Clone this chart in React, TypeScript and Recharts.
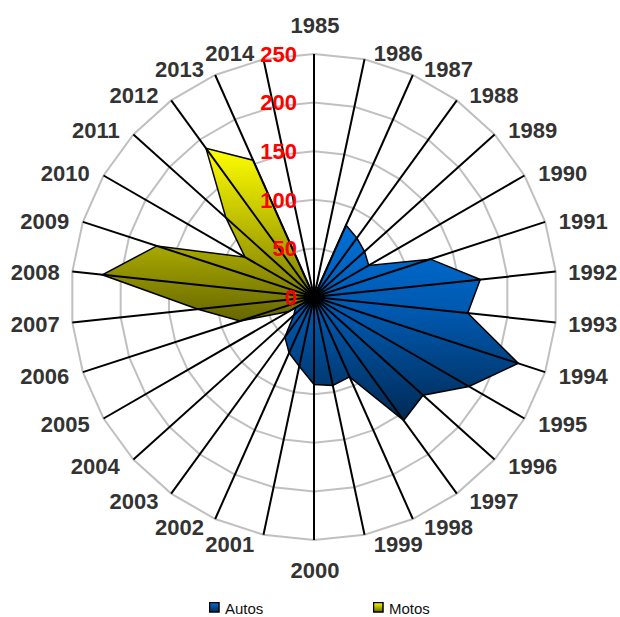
import React from 'react';
import { RadarChart, Radar, PolarGrid, PolarAngleAxis, PolarRadiusAxis, Legend } from 'recharts';

const years = [
  '1985', '1986', '1987', '1988', '1989', '1990', '1991', '1992', '1993', '1994',
  '1995', '1996', '1997', '1998', '1999', '2000', '2001', '2002', '2003', '2004',
  '2005', '2006', '2007', '2008', '2009', '2010', '2011', '2012', '2013', '2014',
];
const autos = [
  0, 0, 81, 75, 70, 65, 126, 172, 159, 221,
  184, 151, 157, 90, 93, 90, 73, 63, 51, 28,
  22, 0, 0, 0, 0, 0, 0, 0, 0, 0,
];
const motos = [
  0, 0, 0, 0, 0, 0, 0, 0, 0, 0,
  0, 0, 0, 0, 0, 0, 0, 0, 0, 0,
  30, 80, 120, 219, 170, 82, 122, 189, 154, 0,
];
const radiusTicks = [0, 50, 100, 150, 200, 250];
const seriesNames = ['Autos', 'Motos'];

const data = years.map((y, i) => ({ year: y, autos: autos[i], motos: motos[i] }));

const CX = 314;
const CY = 297;
const OUTER_R = 243;
const FONT = '"Liberation Sans", Arial, sans-serif';

const AngleTick = (props: any) => {
  const { payload } = props;
  const theta = ((90 - payload.coordinate) % 360 + 360) % 360;
  const rad = (theta * Math.PI) / 180;
  const s = Math.sin(rad);
  const c = Math.cos(rad);
  let x: number;
  let y: number;
  let anchor: 'start' | 'middle' | 'end';
  if (Math.abs(s) < 0.05) {
    x = CX + 1;
    y = c > 0 ? 25 : 570;
    anchor = 'middle';
  } else {
    const off = 255 * Math.abs(s) + 7 * Math.abs(c);
    x = s > 0 ? CX + off : CX - off;
    y = CY + 1.5 - 251 * c;
    anchor = s > 0 ? 'start' : 'end';
  }
  return (
    <text x={x} y={y} dy="0.35em" textAnchor={anchor} fill="#333333" fontFamily={FONT} fontWeight="bold" fontSize={22}>
      {payload.value}
    </text>
  );
};

const RadiusTick = (props: any) => {
  const { x, y, payload } = props;
  return (
    <text x={x - 17} y={y} dy="0.35em" textAnchor="end" fill="#FF0000" fontFamily={FONT} fontWeight="bold" fontSize={22}>
      {payload.value}
    </text>
  );
};

const SpokeShape = (props: any) => {
  const pts = props.points || [];
  return (
    <g>
      {pts.map((p: any, i: number) => {
        const a = (-p.angle * Math.PI) / 180;
        return (
          <line
            key={i}
            x1={p.cx}
            y1={p.cy}
            x2={p.cx + OUTER_R * Math.cos(a)}
            y2={p.cy + OUTER_R * Math.sin(a)}
            stroke="#000"
            strokeWidth={2}
          />
        );
      })}
    </g>
  );
};

const legendFills = [
  ['#0070D8', '#002a55'],
  ['#FFFF00', '#666600'],
];
const legendLeft = [209, 373];

const LegendContent = () => (
  <div style={{ position: 'relative', width: 620, height: 19 }}>
    {seriesNames.map((n, i) => (
      <div key={n}>
        <svg width={11} height={11} style={{ position: 'absolute', left: legendLeft[i], top: 4 }}>
          <defs>
            <linearGradient id={`lg${i}`} x1="0" y1="0" x2="0" y2="1">
              <stop offset="0%" stopColor={legendFills[i][0]} />
              <stop offset="100%" stopColor={legendFills[i][1]} />
            </linearGradient>
          </defs>
          <rect x={0.5} y={0.5} width={9.5} height={9.5} fill={`url(#lg${i})`} stroke="#000" strokeWidth={1.5} />
        </svg>
        <div
          style={{
            position: 'absolute',
            left: legendLeft[i] + 16,
            top: 2.6,
            fontFamily: FONT,
            fontSize: 15,
            lineHeight: '15px',
            color: '#111',
            whiteSpace: 'nowrap',
          }}
        >
          {n}
        </div>
      </div>
    ))}
  </div>
);

export default function App() {
  return (
    <div style={{ position: 'absolute', left: 0, top: 0, width: 620, height: 617, background: '#fff' }}>
      <RadarChart
        width={620}
        height={617}
        data={data}
        cx={CX}
        cy={CY}
        outerRadius={OUTER_R}
        margin={{ top: 0, right: 0, bottom: 0, left: 0 }}
      >
        <defs>
          <linearGradient id="gAutos" x1="0" y1="0" x2="0" y2="1">
            <stop offset="0%" stopColor="#0070D8" />
            <stop offset="45%" stopColor="#0058AE" />
            <stop offset="100%" stopColor="#002a55" />
          </linearGradient>
          <linearGradient id="gMotos" x1="0" y1="0" x2="0" y2="1">
            <stop offset="0%" stopColor="#FFFF00" />
            <stop offset="100%" stopColor="#666600" />
          </linearGradient>
        </defs>
        <PolarGrid gridType="polygon" radialLines={false} stroke="#c0c0c0" strokeWidth={2} />
        <PolarAngleAxis dataKey="year" tick={AngleTick} axisLine={false} tickLine={false} />
        <Radar
          dataKey="autos"
          name="Autos"
          fill="url(#gAutos)"
          fillOpacity={1}
          stroke="#000"
          strokeWidth={1.5}
          isAnimationActive={false}
        />
        <Radar
          dataKey="motos"
          name="Motos"
          fill="url(#gMotos)"
          fillOpacity={1}
          stroke="#000"
          strokeWidth={1.5}
          isAnimationActive={false}
        />
        <Radar
          dataKey="autos"
          name="spokes"
          legendType="none"
          fill="none"
          stroke="none"
          shape={SpokeShape}
          isAnimationActive={false}
        />
        <PolarRadiusAxis
          angle={90}
          domain={[0, 250]}
          ticks={radiusTicks}
          tickCount={6}
          axisLine={false}
          tickLine={false}
          tick={RadiusTick}
        />
        <Legend content={LegendContent} wrapperStyle={{ position: 'absolute', top: 598, left: 0, width: 620 }} />
      </RadarChart>
    </div>
  );
}
